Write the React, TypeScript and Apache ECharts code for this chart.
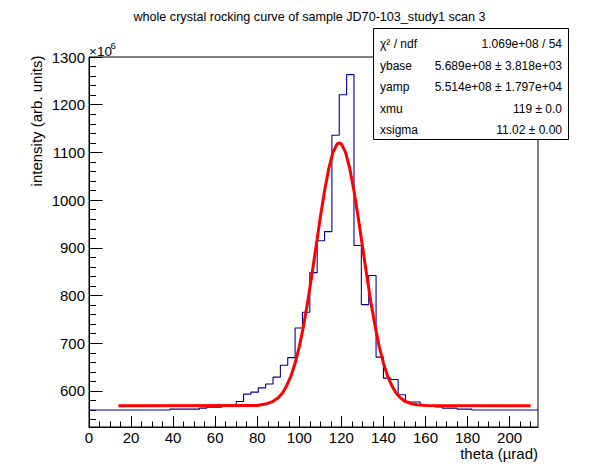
import React, { useEffect, useRef } from "react";
import * as echarts from "echarts";

// ---- data (intensity in units of 1e6) ----
const BIN_WIDTH = 3.5; // theta width of one histogram bin (µrad)
const BIN_COUNTS = [
  560, 560, 560, 560, 560, 560, 560, 560, 560, 560, 560,
  562, 562, 562, 562, 564, 566, 566, 569.5, 569.5,
  578, 593.5, 597.5, 606.5, 614.5, 629, 654, 670, 732, 765,
  848, 915, 934, 1136, 1221, 1263, 905, 781, 842, 671,
  627, 624, 592, 577, 577, 571, 568.5, 566.5, 564, 564,
  562, 562,
  560, 560, 560, 560, 560, 560, 560, 560, 560,
];
const FIT_X = [14, 80, 84, 87, 90, 92, 94, 96, 98, 100, 102, 104, 106, 108, 110, 112, 114, 116, 118, 119,
  120, 122, 124, 126, 128, 130, 132, 134, 136, 138, 140, 142, 144, 146, 148, 150, 153, 156, 160, 210];
const FIT_Y = [569, 569.5, 572.5, 577, 586, 596, 611, 631, 658, 693, 736, 787, 844, 904, 964, 1019, 1066, 1100, 1118, 1120,
  1118, 1100, 1066, 1019, 964, 904, 844, 787, 737, 693, 659, 631, 611, 596, 586, 579, 573.5, 571, 569.5, 569];

const X_MAJOR = [0, 20, 40, 60, 80, 100, 120, 140, 160, 180, 200];
const X_MINOR = [5, 10, 15, 25, 30, 35, 45, 50, 55, 65, 70, 75, 85, 90, 95, 105, 110, 115, 125, 130, 135,
  145, 150, 155, 165, 170, 175, 185, 190, 195, 205, 210];
const Y_MAJOR = [600, 700, 800, 900, 1000, 1100, 1200, 1300];
const Y_MINOR = [540, 560, 580, 620, 640, 660, 680, 720, 740, 760, 780, 820, 840, 860, 880, 920, 940, 960, 980,
  1020, 1040, 1060, 1080, 1120, 1140, 1160, 1180, 1220, 1240, 1260, 1280];

const X_MIN = 0;
const X_MAX = 213.5;
const Y_MIN = 524.5;
const Y_MAX = 1300;

const TITLE = "whole crystal rocking curve of sample JD70-103_study1 scan 3";
const X_TITLE = "theta (\u00b5rad)";
const Y_TITLE = "intensity (arb. units)";
const STAT_NAMES = ["\u03c7\u00b2 / ndf", "ybase", "yamp", "xmu", "xsigma"];
const STAT_VALUES = [
  "1.069e+08 / 54",
  "5.689e+08 \u00b1 3.818e+03",
  "5.514e+08 \u00b1 1.797e+04",
  "119 \u00b1 0.0",
  "11.02 \u00b1 0.00",
];

const FONT = "'Liberation Sans', Arial, Helvetica, sans-serif";

export default function App() {
  const ref = useRef<HTMLDivElement>(null);

  useEffect(() => {
    if (!ref.current) return;
    const chart = echarts.init(ref.current, undefined, { renderer: "svg" });

    const histData: number[][] = BIN_COUNTS.map((v, k) => [k * BIN_WIDTH, v]);
    histData.push([BIN_COUNTS.length * BIN_WIDTH, BIN_COUNTS[BIN_COUNTS.length - 1]]);
    const fitData = FIT_X.map((x, i) => [x, FIT_Y[i]]);

    const black = { color: "#000", width: 1 };
    const statRowY = [44, 65.5, 87, 108.5, 130];
    const plain = (v: number) => String(v);

    const statTexts: any[] = [];
    STAT_NAMES.forEach((n, i) => {
      statTexts.push({
        type: "text", x: 380, y: statRowY[i], z: 101,
        style: { text: n, fontSize: 12, fontFamily: FONT, fill: "#000", align: "left", verticalAlign: "middle" },
      });
      statTexts.push({
        type: "text", x: 562, y: statRowY[i], z: 101,
        style: { text: STAT_VALUES[i], fontSize: 12, fontFamily: FONT, fill: "#000", align: "right", verticalAlign: "middle" },
      });
    });

    const option: any = {
      animation: false,
      backgroundColor: "#ffffff",
      grid: {
        left: 89, right: 60, top: 57, bottom: 47,
        show: true, borderColor: "#000", borderWidth: 1, backgroundColor: "#ffffff",
      },
      xAxis: [
        {
          type: "value", min: X_MIN, max: X_MAX, position: "bottom",
          axisLine: { show: true, lineStyle: black },
          axisTick: { show: true, inside: true, length: 11, customValues: X_MAJOR, lineStyle: black },
          axisLabel: { show: true, customValues: X_MAJOR, formatter: plain, fontSize: 15, color: "#000", fontFamily: FONT, margin: 3 },
          splitLine: { show: false },
        },
        {
          type: "value", min: X_MIN, max: X_MAX, position: "bottom", offset: 0,
          axisLine: { show: false },
          axisTick: { show: true, inside: true, length: 5.5, customValues: X_MINOR, lineStyle: black },
          axisLabel: { show: false },
          splitLine: { show: false },
        },
      ],
      yAxis: [
        {
          type: "value", min: Y_MIN, max: Y_MAX, position: "left",
          axisLine: { show: true, lineStyle: black },
          axisTick: { show: true, inside: true, length: 13.5, customValues: Y_MAJOR, lineStyle: black },
          axisLabel: { show: true, customValues: Y_MAJOR, formatter: plain, fontSize: 15, color: "#000", fontFamily: FONT, margin: 4 },
          splitLine: { show: false },
        },
        {
          type: "value", min: Y_MIN, max: Y_MAX, position: "left", offset: 0,
          axisLine: { show: false },
          axisTick: { show: true, inside: true, length: 7, customValues: Y_MINOR, lineStyle: black },
          axisLabel: { show: false },
          splitLine: { show: false },
        },
      ],
      series: [
        {
          type: "line", name: "histogram", xAxisIndex: 0, yAxisIndex: 0,
          data: histData, step: "end", symbol: "none", silent: true, z: 2,
          lineStyle: { color: "#000099", width: 1.1 },
        },
        {
          type: "line", name: "fit", xAxisIndex: 0, yAxisIndex: 0,
          data: fitData, symbol: "none", smooth: false, silent: true, z: 3,
          lineStyle: { color: "#ff0000", width: 3 },
        },
      ],
      graphic: [
        {
          type: "text", x: 309.5, y: 17, z: 100,
          style: { text: TITLE, fontSize: 12.6, fontFamily: FONT, fill: "#000", align: "center", verticalAlign: "middle" },
        },
        {
          type: "text", x: 36, y: 121, rotation: Math.PI / 2, z: 100,
          style: { text: Y_TITLE, fontSize: 15, fontFamily: FONT, fill: "#000", align: "center", verticalAlign: "middle" },
        },
        {
          type: "text", x: 538, y: 453, z: 100,
          style: { text: X_TITLE, fontSize: 15, fontFamily: FONT, fill: "#000", align: "right", verticalAlign: "middle" },
        },
        {
          type: "text", x: 89, y: 51.5, z: 100,
          style: { text: "\u00d710", fontSize: 13.5, fontFamily: FONT, fill: "#000", align: "left", verticalAlign: "middle" },
        },
        {
          type: "text", x: 110.5, y: 45, z: 100,
          style: { text: "6", fontSize: 9.5, fontFamily: FONT, fill: "#000", align: "left", verticalAlign: "middle" },
        },
        {
          type: "rect", z: 100,
          shape: { x: 373.5, y: 28.5, width: 195, height: 111 },
          style: { fill: "#ffffff", stroke: "#000", lineWidth: 1 },
        },
        ...statTexts,
      ],
    };

    chart.setOption(option);
    return () => chart.dispose();
  }, []);

  return (
    <div
      ref={ref}
      style={{ position: "absolute", left: 0, top: 0, width: 598, height: 474, background: "#fff" }}
    />
  );
}
